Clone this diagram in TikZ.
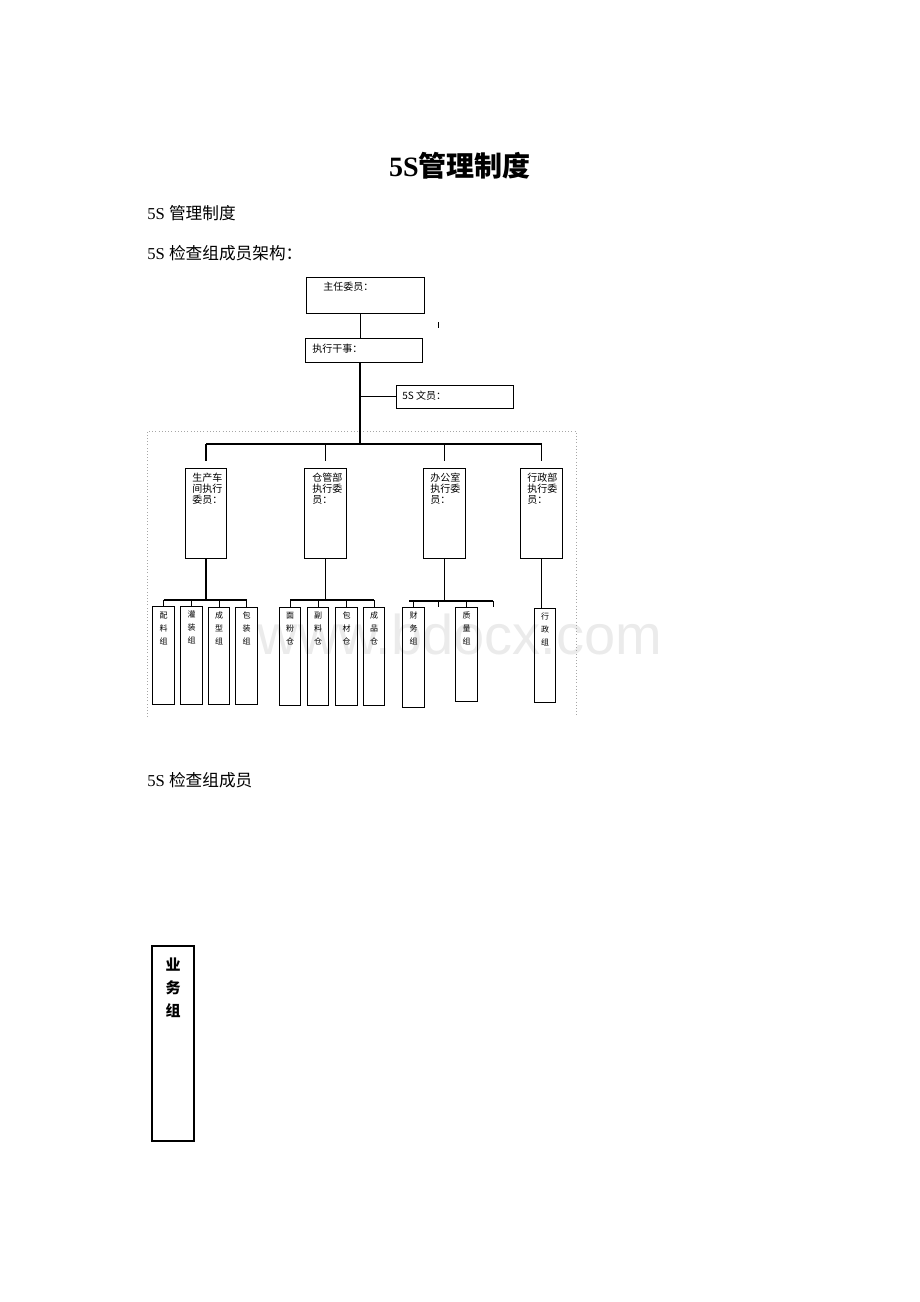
\documentclass[tikz,border=0pt]{standalone}
\usepackage{fontspec}
\setmainfont{Liberation Serif}
\newfontfamily\cjk{Noto Sans CJK SC}
\newfontfamily\wmfont{Liberation Sans}
\usetikzlibrary{calc}

\tikzset{
  box/.style={draw, line width=0.7pt, inner sep=0pt},
  unit/.style={box, minimum width=31pt, minimum height=67.5pt},
  team/.style={box, minimum width=16pt, minimum height=73pt},
  chart/.style={font=\cjk\fontsize{7.5}{8.25}\selectfont, inner sep=0pt, align=left},
  vert/.style={font=\cjk\fontsize{6}{9.75}\selectfont, inner sep=0pt, align=center, anchor=north},
  link/.style={line width=1pt},
  tick/.style={line width=0.5pt},
  body/.style={anchor=west, inner sep=0pt, font=\fontsize{12.5}{12.5}\selectfont},
}

\begin{document}
\begin{tikzpicture}[x=0.75pt,y=-0.75pt]
          \useasboundingbox (0,0) rectangle (920,1302);
          % watermark
          \node[text=gray!16, font=\wmfont\fontsize{42}{42}\selectfont] (wm) at (460,634) {www.bdocx.com};

          % headings
          \node[font=\fontsize{21}{21}\selectfont\bfseries] (title) at (460,166) {5S{\cjk 管理制度}};
          \node[body] (h1) at (147,213) {5S {\cjk 管理制度}};
          \node[body] (h2) at (147,253) {5S {\cjk 检查组成员架构：}};
          \node[body] (h3) at (147,780) {5S {\cjk 检查组成员}};

          % frame
          \draw[gray!70, dotted] (147,717) -- (147,431) -- (576,431) -- (576,717);

          % top
          \node[box, minimum width=88.5pt, minimum height=27pt] (zr) at (365,295) {};
          \node[chart, anchor=west] (zrt) at (323,287) {主任委员：};
          \node[box, minimum width=87.75pt, minimum height=18pt] (zx) at (363.5,350) {};
          \node[chart, anchor=west] (zxt) at (312,349) {执行干事：};
          \node[box, minimum width=87.75pt, minimum height=17.25pt] (wy) at (454.5,396.5) {};
          \node[chart, anchor=west] (wyt) at (402,396) {5S 文员：};
          \coordinate (trunk) at (360,0);
          \coordinate (bus) at (0,444);
          \coordinate (mark) at (438,322);
          \draw[tick] (mark) -- ++(0,6);

          % units
          \node[unit] (sc) at (206,513) {};
          \node[chart, anchor=north west] (sct) at (192,473) {生产车\\间执行\\委员：};
          \node[unit] (cg) at (325.5,513) {};
          \node[chart, anchor=north west] (cgt) at (312,473) {仓管部\\执行委\\员：};
          \node[unit] (bg) at (444.5,513) {};
          \node[chart, anchor=north west] (bgt) at (430,473) {办公室\\执行委\\员：};
          \node[unit] (xz) at (541.5,513) {};
          \node[chart, anchor=north west] (xzt) at (527,473) {行政部\\执行委\\员：};

          % teams
          \coordinate (g1) at (0,600);
          \coordinate (g3) at (0,601);
          \node[team] (pl) at (163.5,655.5) {};
          \node[vert] at ($(pl.north)+(0,5)$) {配\\料\\组};
          \node[team, minimum height=74pt] (gz) at (191.5,655.5) {};
          \node[vert] at ($(gz.north)+(0,5)$) {灌\\装\\组};
          \node[team] (cx) at (219,656) {};
          \node[vert] at ($(cx.north)+(0,5)$) {成\\型\\组};
          \node[team] (bz) at (246.5,656) {};
          \node[vert] at ($(bz.north)+(0,5)$) {包\\装\\组};
          \node[team, minimum height=74pt] (mf) at (290,656.5) {};
          \node[vert] at ($(mf.north)+(0,5)$) {面\\粉\\仓};
          \node[team, minimum height=74pt] (fl) at (318,656.5) {};
          \node[vert] at ($(fl.north)+(0,5)$) {副\\料\\仓};
          \node[team, minimum height=74pt] (bc) at (346.5,656.5) {};
          \node[vert] at ($(bc.north)+(0,5)$) {包\\材\\仓};
          \node[team, minimum height=74pt] (cp) at (374,656.5) {};
          \node[vert] at ($(cp.north)+(0,5)$) {成\\品\\仓};
          \node[team, minimum height=75pt] (cw) at (413.5,657) {};
          \node[vert] at ($(cw.north)+(0,5)$) {财\\务\\组};
          \node[team, minimum height=70.5pt] (zl) at (466.5,654) {};
          \node[vert] at ($(zl.north)+(0,5)$) {质\\量\\组};
          \node[team, minimum height=71pt] (xzz) at (545,655.5) {};
          \node[vert] at ($(xzz.north)+(0,5)$) {行\\政\\组};
          \coordinate (g3l) at (409,601);
          \coordinate (g3m) at (438,601);
          \coordinate (g3r) at (493,601);

          % main line
          \draw[line width=0.6pt] (zr.south -| trunk) -- (zx.north -| trunk);
          \draw[link] (zx.south -| trunk) -- (trunk |- bus);
          \draw[link] (trunk |- wy.west) -- (wy.west);
          \draw[link] (sc.north |- bus) -- (xz.north |- bus);
          \draw[link] (sc.north |- bus) -- ++(0,17);
          \draw[link] (cg.north |- bus) -- ++(0,17);
          \draw[link] (bg.north |- bus) -- ++(0,17);
          \draw[link] (xz.north |- bus) -- ++(0,17);

          % team lines
          \draw[link] (sc.south) -- (sc.south |- g1);
          \draw[link] (pl.north |- g1) -- (bz.north |- g1);
          \draw[tick] (pl.north |- g1) -- (pl.north);
          \draw[tick] (gz.north |- g1) -- (gz.north);
          \draw[tick] (cx.north |- g1) -- (cx.north);
          \draw[tick] (bz.north |- g1) -- (bz.north);
          \draw[link] (cg.south) -- (cg.south |- g1);
          \draw[link] (mf.north |- g1) -- (cp.north |- g1);
          \draw[tick] (mf.north |- g1) -- (mf.north);
          \draw[tick] (fl.north |- g1) -- (fl.north);
          \draw[tick] (bc.north |- g1) -- (bc.north);
          \draw[tick] (cp.north |- g1) -- (cp.north);
          \draw[link] (bg.south) -- (bg.south |- g3);
          \draw[link] (g3l) -- (g3r);
          \draw[tick] (cw.north |- g3) -- (cw.north);
          \draw[tick] (g3m) -- ++(0,6);
          \draw[tick] (zl.north |- g3) -- (zl.north);
          \draw[tick] (g3r) -- ++(0,6);
          \draw[link] (xz.south) -- (xz.south |- xzz.north);

          % business team
          \node[box, line width=1.5pt, minimum width=31.5pt, minimum height=146.25pt] (yw) at (173,1043.5) {};
          \node[vert, font=\cjk\bfseries\fontsize{11.25}{17.25}\selectfont] (ywt) at (173,958) {业\\务\\组};
\end{tikzpicture}
\end{document}
